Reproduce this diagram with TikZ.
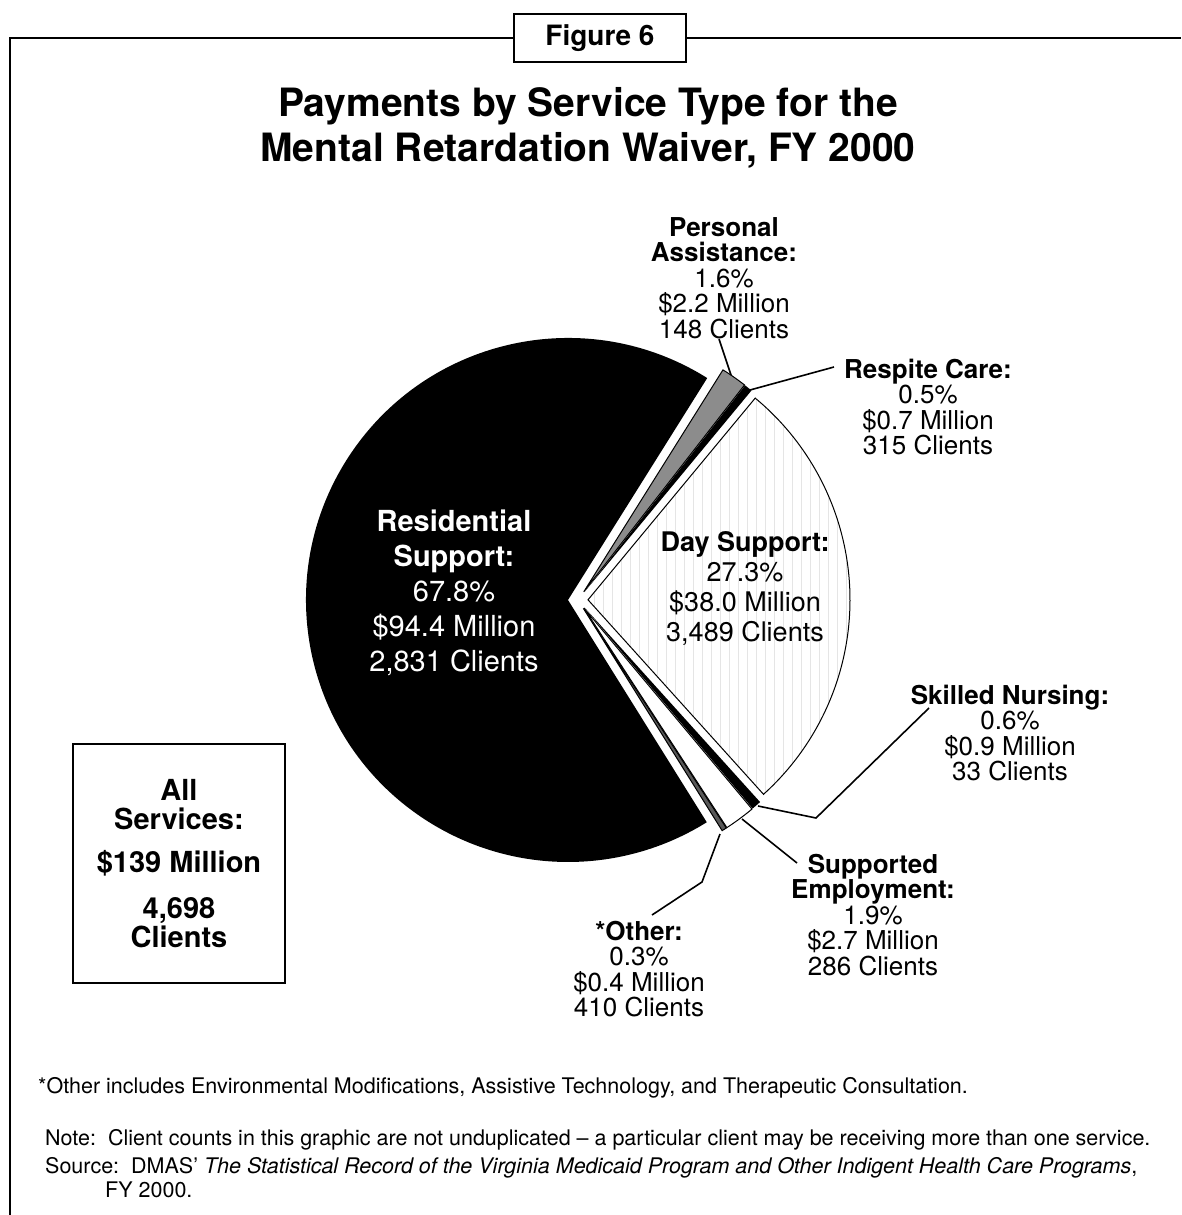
\documentclass[tikz,border=0pt]{standalone}
\usepackage{fontspec}
\setmainfont{TeX Gyre Heros}
\usetikzlibrary{patterns.meta}

\newcommand{\pieslice}[4]{%
  \pgfmathsetmacro{\slmid}{(#1+#2)/2}%
  \path[#4] (578,600) ++(\slmid:#3pt) -- ++(#1:262pt) arc[start angle=#1, end angle=#2, radius=262pt] -- cycle;%
}

\tikzset{
  lbl/.style={align=center, inner sep=0pt, font=\fontsize{26}{25.5}\selectfont},
  lead/.style={line width=1.6pt},
  frameline/.style={line width=1.8pt},
  foot/.style={anchor=west, inner sep=0pt, font=\fontsize{21.5}{24}\selectfont},
  allfont/.style={align=center, inner sep=0pt, font=\bfseries\fontsize{29}{29}\selectfont},
}

\begin{document}
\begin{tikzpicture}[x=1pt,y=-1pt]
\useasboundingbox (0,0) rectangle (1181,1215);
\fill[white] (0,0) rectangle (1181,1215);

% frame and figure tag
\node[draw, line width=1.6pt, minimum width=172pt, minimum height=48pt, inner sep=0pt,
      font=\bfseries\fontsize{28}{28}\selectfont] (fig) at (600,38) {Figure 6};
\coordinate (frBL) at (10,1215);
\coordinate (frTR) at (1181,38);
\draw[frameline] (frBL) |- (fig.west);
\draw[frameline] (fig.east) -- (frTR);

% title
\node[align=center, inner sep=0pt, font=\bfseries\fontsize{39}{45}\selectfont] (title) at (588,128)
  {Payments by Service Type for the\\Mental Retardation Waiver, FY 2000};

% pie slices
\pieslice{57.9}{301.98}{10}{fill=black}
\pieslice{301.98}{303.06}{10}{fill=black!65, draw=black, line width=1pt}
\pieslice{303.06}{309.9}{10}{fill=white, draw=black, line width=1pt}
\pieslice{309.9}{312.06}{10}{fill=black}
\pieslice{312.06}{410.34}{10}{preaction={fill=white}, pattern={Lines[angle=90,distance=9pt,line width=0.4pt]}, pattern color=black!10, draw=black, line width=1pt}
\pieslice{50.34}{52.14}{10}{fill=black}
\pieslice{52.14}{57.9}{10}{fill=black!45, draw=black, line width=1pt}

% slice labels
\node[align=center, inner sep=0pt, text=white, font=\fontsize{29}{35}\selectfont] (rs) at (454,593)
  {\textbf{Residential}\\\textbf{Support:}\\67.8\%\\\$94.4 Million\\2,831 Clients};
\node[align=center, inner sep=0pt, font=\fontsize{27}{30}\selectfont] (ds) at (745,588)
  {\textbf{Day Support:}\\27.3\%\\\$38.0 Million\\3,489 Clients};
\node[lbl] (pa) at (724,278) {\textbf{Personal}\\\textbf{Assistance:}\\1.6\%\\\$2.2 Million\\148 Clients};
\node[lbl] (rc) at (928,407) {\textbf{Respite Care:}\\0.5\%\\\$0.7 Million\\315 Clients};
\node[lbl] (sn) at (1010,733) {\textbf{Skilled Nursing:}\\0.6\%\\\$0.9 Million\\33 Clients};
\node[lbl] (se) at (873,915) {\textbf{Supported}\\\textbf{Employment:}\\1.9\%\\\$2.7 Million\\286 Clients};
\node[lbl] (ot) at (639,969) {\textbf{*Other:}\\0.3\%\\\$0.4 Million\\410 Clients};

% leaders
\coordinate (paA) at (719,339);
\coordinate (paB) at (731,375);
\draw[lead] (paA) -- (paB);
\coordinate (rcA) at (750,390);
\coordinate (rcB) at (834,367);
\draw[lead] (rcA) -- (rcB);
\coordinate (snA) at (758,806);
\coordinate (snK) at (816,818);
\coordinate (snB) at (929,708);
\draw[lead] (snA) -- (snK) -- (snB);
\coordinate (seA) at (742,819);
\coordinate (seB) at (797,863);
\draw[lead] (seA) -- (seB);
\coordinate (otA) at (720,834);
\coordinate (otK) at (702,882);
\coordinate (otB) at (652,915);
\draw[lead] (otA) -- (otK) -- (otB);

% all services box
\node[draw, line width=1.5pt, minimum width=212pt, minimum height=239pt, inner sep=0pt] (allbox) at (179,863.5) {};
\node[allfont] (allA) at (179,805) {All\\Services:};
\node[allfont] (allB) at (179,863) {\$139 Million};
\node[allfont] (allC) at (179,923) {4,698\\Clients};

% footnotes
\node[foot] (fn1) at (38,1088) {*Other includes Environmental Modifications, Assistive Technology, and Therapeutic Consultation.};
\node[foot] (fn2) at (45,1140) {Note:\ \ Client counts in this graphic are not unduplicated \textendash{} a particular client may be receiving more than one service.};
\node[foot] (fn3) at (45,1168) {Source:\ \ DMAS' \textit{The Statistical Record of the Virginia Medicaid Program and Other Indigent Health Care Programs},};
\node[foot] (fn4) at (105,1190) {FY 2000.};
\end{tikzpicture}
\end{document}
